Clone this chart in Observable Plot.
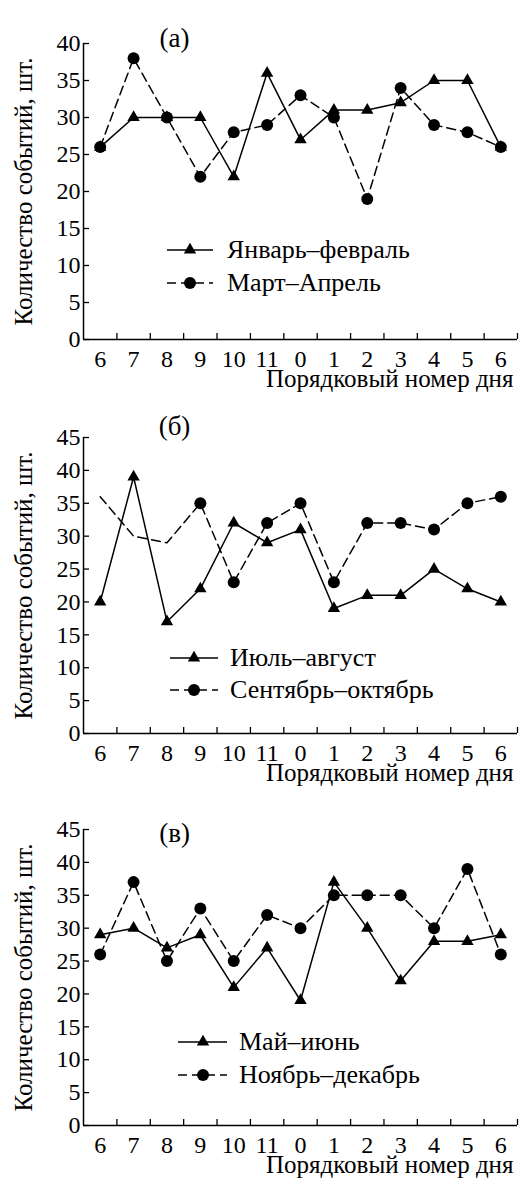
<!DOCTYPE html>
<html>
<head>
<meta charset="utf-8">
<script src="https://cdn.jsdelivr.net/npm/d3@7"></script>
<script src="https://cdn.jsdelivr.net/npm/@observablehq/plot@0.6"></script>
<style>
  html, body { margin: 0; padding: 0; background: #fff; }
  #chart svg { display: block; }
</style>
</head>
<body>
<div id="chart"></div>
<script>
// Day-of-cycle labels along the horizontal axis (shared by all panels)
const dayLabels = ["6", "7", "8", "9", "10", "11", "0", "1", "2", "3", "4", "5", "6"];

// Panel (а)
const janFeb = [26, 30, 30, 30, 22, 36, 27, 31, 31, 32, 35, 35, 26];
const marApr = [26, 38, 30, 22, 28, 29, 33, 30, 19, 34, 29, 28, 26];

// Panel (б)
const julAug = [20, 39, 17, 22, 32, 29, 31, 19, 21, 21, 25, 22, 20];
const sepOct = [36, 30, 29, 35, 23, 32, 35, 23, 32, 32, 31, 35, 36];

// Panel (в)
const mayJun = [29, 30, 27, 29, 21, 27, 19, 37, 30, 22, 28, 28, 29];
const novDec = [26, 37, 25, 33, 25, 32, 30, 35, 35, 35, 30, 39, 26];

const yTicks40 = [0, 5, 10, 15, 20, 25, 30, 35, 40];
const yTicks45 = [0, 5, 10, 15, 20, 25, 30, 35, 40, 45];

const yTitle = "Количество событий, шт.";
const xTitle = "Порядковый номер дня";

const panels = [
  {
    title: "(а)", titleDy: -16, height: 394, yMax: 40, yTicks: yTicks40,
    solid: {name: "Январь–февраль", values: janFeb},
    dashed: {name: "Март–Апрель", values: marApr, markFrom: 0},
    legend: {x0: 167, x1: 213, xm: 190, xt: 227, y: [250, 283]}
  },
  {
    title: "(б)", titleDy: -22, height: 392, yMax: 45, yTicks: yTicks45,
    solid: {name: "Июль–август", values: julAug},
    dashed: {name: "Сентябрь–октябрь", values: sepOct, markFrom: 3},
    legend: {x0: 170, x1: 218, xm: 194, xt: 230, y: [264, 296]}
  },
  {
    title: "(в)", titleDy: -7, height: 401, yMax: 45, yTicks: yTicks45,
    solid: {name: "Май–июнь", values: mayJun},
    dashed: {name: "Ноябрь–декабрь", values: novDec, markFrom: 0},
    legend: {x0: 178, x1: 227, xm: 203, xt: 239, y: [256, 289]}
  }
];

const W = 520, ML = 83, MR = 3, MT = 43, FH = 296;
const FW = W - ML - MR;
const FONT = "Liberation Serif, Times New Roman, serif";
const FS = 26;       // legend text
const FS_TICK = 24;  // tick labels
const FS_TITLE = 25; // axis titles
const DASH = "9,5";
const R_DOT = 6, R_TRI = 4.6;

function drawPanel(p) {
  const solid = p.solid.values.map((y, i) => ({i, y}));
  const dashed = p.dashed.values.map((y, i) => ({i, y}));
  const idx = d3.range(dayLabels.length);

  const svg = Plot.plot({
    width: W,
    height: p.height,
    marginLeft: ML,
    marginRight: MR,
    marginTop: MT,
    marginBottom: p.height - MT - FH,
    style: {fontFamily: FONT, fontSize: FS + "px", color: "#000", background: "#fff"},
    x: {domain: [-0.5, dayLabels.length - 0.5], axis: null},
    y: {domain: [0, p.yMax], axis: null},
    marks: [
      // axes
      Plot.axisY({ticks: p.yTicks, tickSize: 0, tickPadding: 3, label: null, fontSize: FS_TICK}),
      Plot.tickY(p.yTicks, {y: d => d, insetRight: FW - 6, stroke: "#000", strokeWidth: 1.3}),
      Plot.axisX({ticks: idx, tickFormat: i => dayLabels[i], tickSize: 0, tickPadding: 10, label: null, fontSize: FS_TICK}),
      Plot.tickX(idx.map(i => i + 0.5), {x: d => d, insetTop: FH - 6, stroke: "#000", strokeWidth: 1.3}),
      Plot.ruleX([-0.5], {stroke: "#000", strokeWidth: 1.5}),
      Plot.ruleY([0], {stroke: "#000", strokeWidth: 1.5}),
      // series
      Plot.line(solid, {x: "i", y: "y", stroke: "#000", strokeWidth: 1.5}),
      Plot.line(dashed, {x: "i", y: "y", stroke: "#000", strokeWidth: 1.5, strokeDasharray: DASH}),
      Plot.dot(solid, {x: "i", y: "y", symbol: "triangle", r: R_TRI, fill: "#000", stroke: "none"}),
      Plot.dot(dashed.filter(d => d.i >= p.dashed.markFrom), {x: "i", y: "y", r: R_DOT, fill: "#000", stroke: "none"}),
      // titles
      Plot.text([p.title], {frameAnchor: "top-left", dx: 91, dy: p.titleDy, fontSize: 27, textAnchor: "middle"}),
      Plot.text([yTitle], {frameAnchor: "left", textAnchor: "middle", rotate: -90, dx: -60, fontSize: FS_TITLE}),
      Plot.text([xTitle], {frameAnchor: "bottom-right", textAnchor: "end", dx: -4, dy: 47, fontSize: FS_TITLE})
    ]
  });

  // legend inside the plotting area
  const L = p.legend;
  const g = d3.select(svg).append("g")
    .attr("font-family", FONT)
    .attr("font-size", FS)
    .attr("text-anchor", "start")
    .attr("fill", "#000");
  const items = [
    {name: p.solid.name, dash: null, shape: d3.symbolTriangle, r: R_TRI},
    {name: p.dashed.name, dash: DASH, shape: d3.symbolCircle, r: R_DOT}
  ];
  items.forEach((it, k) => {
    const y = L.y[k];
    g.append("line")
      .attr("x1", L.x0).attr("x2", L.x1).attr("y1", y).attr("y2", y)
      .attr("stroke", "#000").attr("stroke-width", 1.5)
      .attr("stroke-dasharray", it.dash);
    g.append("path")
      .attr("transform", `translate(${L.xm},${y})`)
      .attr("d", d3.symbol(it.shape, Math.PI * it.r * it.r)());
    g.append("text")
      .attr("x", L.xt).attr("y", y).attr("dy", "0.32em")
      .attr("text-anchor", "start")
      .text(it.name);
  });

  return svg;
}

const root = document.getElementById("chart");
panels.forEach(p => root.appendChild(drawPanel(p)));
</script>
</body>
</html>
